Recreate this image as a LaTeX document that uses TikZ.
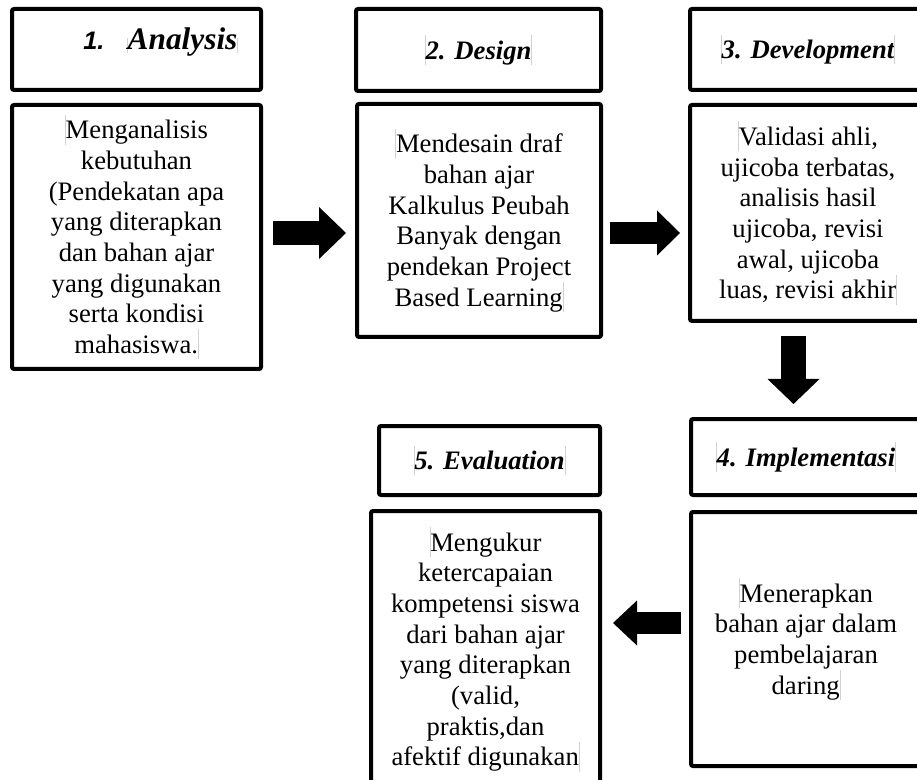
\documentclass[tikz,border=0pt]{standalone}
\usepackage{fontspec}
\setmainfont{Liberation Serif}
\newfontfamily\numfont{Liberation Sans}
\usetikzlibrary{arrows.meta}
\newcommand{\mk}{\textcolor{black!18}{\rule[-0.22em]{0.5pt}{1.12em}}}

\begin{document}
\begin{tikzpicture}[x=0.75pt,y=-0.75pt,
	box/.style={draw,line width=3pt,rounded corners=1.5pt,align=center,inner sep=0pt,
		font=\fontsize{20}{23}\selectfont},
	titlebox/.style={box,font=\fontsize{20}{23}\selectfont\bfseries\itshape},
	blockarrow/.style n args={3}{line width=#1,-{Triangle[length=#2,width=#3,line width=0pt]}}]
	\useasboundingbox (0,0) rectangle (917,780);
	% top row
	\node[titlebox,minimum width=186.75pt,minimum height=60.75pt] (t1) at (136.5,49.5) {};
	\node[anchor=base west,inner sep=0pt] (t1text) at (83,50)
		{{\numfont\fontsize{19}{22}\selectfont\bfseries\itshape 1.}\hspace{17pt}\mk{\fontsize{23.5}{27}\selectfont\bfseries\itshape Analysis}\mk};
	\node[box,minimum width=186.75pt,minimum height=198pt] (b1) at (136.5,237)
		{\mk Menganalisis\\kebutuhan\\(Pendekatan apa\\yang diterapkan\\dan bahan ajar\\yang digunakan\\serta kondisi\\mahasiswa.\mk};
	\node[titlebox,minimum width=183.75pt,minimum height=61.5pt] (t2) at (478.5,50) {\mk 2. Design\mk};
	\node[box,minimum width=183pt,minimum height=174.75pt] (b2) at (479,220.5)
		{\mk Mendesain draf\\bahan ajar\\Kalkulus Peubah\\Banyak dengan\\pendekan Project\\Based Learning\mk};
	\node[titlebox,minimum width=177pt,minimum height=60.75pt] (t3) at (808,49.5) {\mk 3. Development\mk};
	\node[box,minimum width=177pt,minimum height=162pt] (b3) at (808,213)
		{\mk Validasi ahli,\\ujicoba terbatas,\\analisis hasil\\ujicoba, revisi\\awal, ujicoba\\luas, revisi akhir\mk};
	% bottom row
	\node[titlebox,minimum width=172.5pt,minimum height=57pt] (t4) at (806,457) {\mk 4. Implementasi\mk};
	\node[box,minimum width=172.5pt,minimum height=190.5pt] (b4) at (806,639)
		{\mk Menerapkan\\bahan ajar dalam\\pembelajaran\\daring\mk};
	\node[titlebox,minimum width=165.75pt,minimum height=51.75pt] (t5) at (489.5,460.5) {\mk 5. Evaluation\mk};
	\node[box,minimum width=171.75pt,minimum height=207.75pt] (b5) at (485.5,649.5)
		{\mk Mengukur\\ketercapaian\\kompetensi siswa\\dari bahan ajar\\yang diterapkan\\(valid,\\praktis,dan\\afektif digunakan\mk};
	% arrows
	\draw[blockarrow={18pt}{20.25pt}{39pt},shorten <=7.5pt,shorten >=6.75pt] (b1.east |- 0,233) -- (b2.west |- 0,233);
	\draw[blockarrow={16.5pt}{17.25pt}{33.75pt},shorten <=5.25pt,shorten >=6pt] (b2.east |- 0,233) -- (b3.west |- 0,233);
	\draw[blockarrow={18.75pt}{18.75pt}{39pt},shorten <=9.75pt,shorten >=9.75pt] (b3.south -| 793.5,0) -- (t4.north -| 793.5,0);
	\draw[blockarrow={16.5pt}{18pt}{33.75pt},shorten <=6pt,shorten >=8.25pt] (b4.west |- 0,623) -- (b5.east |- 0,623);
\end{tikzpicture}
\end{document}
